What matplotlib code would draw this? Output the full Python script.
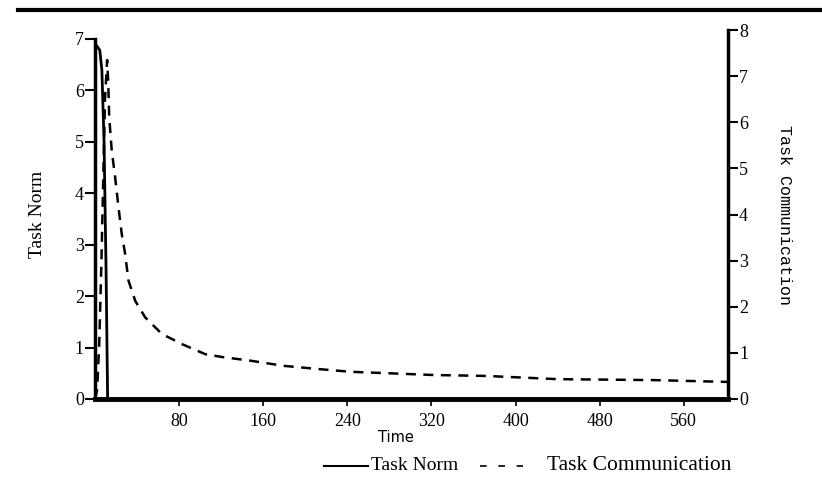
import matplotlib
matplotlib.use("Agg")
import matplotlib.pyplot as plt
from matplotlib.lines import Line2D

# Task Norm (left axis)
norm_t = [0, 0.3, 4.5, 6.5, 8.6, 10.5, 12, 602]
norm_v = [0, 6.9, 6.78, 6.4, 5.0, 2.5, 0, 0]

# Task Communication (right axis)
comm_t = [0, 2, 4, 6, 9.5, 11.5, 12.5, 13.5, 15.9, 19.1, 22.3, 25.4, 28.6, 31.8,
          38.2, 47.7, 63.6, 82.7, 105, 121, 148, 179, 212, 243, 322, 372, 440,
          530, 602]
comm_v = [0, 0.2, 1.2, 2.9, 6.5, 7.35, 6.9, 6.1, 5.39, 4.81, 4.16, 3.58, 3.15,
          2.57, 2.13, 1.77, 1.41, 1.19, 0.97, 0.91, 0.83, 0.72, 0.65, 0.59, 0.52,
          0.5, 0.43, 0.41, 0.37]

x_ticks = [80, 160, 240, 320, 400, 480, 560]
left_ticks = [0, 1, 2, 3, 4, 5, 6, 7]
right_ticks = [0, 1, 2, 3, 4, 5, 6, 7, 8]

serif = ["Liberation Serif", "DejaVu Serif"]

fig = plt.figure(figsize=(8.22, 4.88), dpi=100)
ax = fig.add_axes([0.1156, 0.1824, 0.77, 0.756])
ax2 = ax.twinx()

ax.plot(norm_t, norm_v, color="black", lw=2.0, solid_joinstyle="miter")
ax2.plot(comm_t, comm_v, color="black", lw=1.8, dashes=(4, 3))

ax.set_xlim(0, 602)
ax.set_ylim(0, 7.17)
ax2.set_ylim(0, 8.0)

ax.set_xticks(x_ticks)
ax.set_yticks(left_ticks)
ax2.set_yticks(right_ticks)

for a in (ax, ax2):
    a.spines["top"].set_visible(False)
ax.spines["right"].set_visible(False)
ax2.spines["left"].set_visible(False)
ax2.spines["bottom"].set_visible(False)
ax.spines["left"].set_bounds(0, 7)
ax.spines["left"].set_linewidth(2.5)
ax.spines["bottom"].set_linewidth(3.5)
ax2.spines["right"].set_linewidth(2.5)

ax.tick_params(axis="x", direction="out", length=5, width=1.2, labelsize=13, pad=5)
ax.tick_params(axis="y", direction="out", length=7, width=1.5, labelsize=13, pad=1)
ax2.tick_params(axis="y", direction="out", length=7, width=1.5, labelsize=13, pad=1)
for lbl in ax.get_xticklabels() + ax.get_yticklabels() + ax2.get_yticklabels():
    lbl.set_family(serif)

ax.set_ylabel("Task Norm", family=serif, fontsize=14)
ax.yaxis.set_label_coords(-0.077, 0.5)
ax2.set_ylabel("Task Communication", family=["Liberation Mono", "DejaVu Sans Mono"],
               fontsize=12, rotation=270, va="center")
ax2.yaxis.set_label_coords(1.09, 0.5)
ax.set_xlabel("Time", family="DejaVu Sans", fontsize=10.5)
ax.xaxis.set_label_coords(0.475, -0.085)

# top rule
fig.add_artist(Line2D([18 / 822, 1.0], [1 - 10 / 488] * 2, color="black", lw=3))

# legend below the axis
ly = 1 - 466 / 488
fig.add_artist(Line2D([324 / 822, 368 / 822], [ly, ly], color="black", lw=1.5))
fig.text(371 / 822, ly, "Task Norm", family=serif, fontsize=14, va="center")
fig.add_artist(Line2D([480 / 822, 523 / 822], [ly, ly], color="black", lw=1.2,
                      dashes=(4, 7)))
fig.text(547 / 822, ly, "Task Communication", family=serif, fontsize=15.5, va="center")

fig.savefig("out.png", dpi=100)
